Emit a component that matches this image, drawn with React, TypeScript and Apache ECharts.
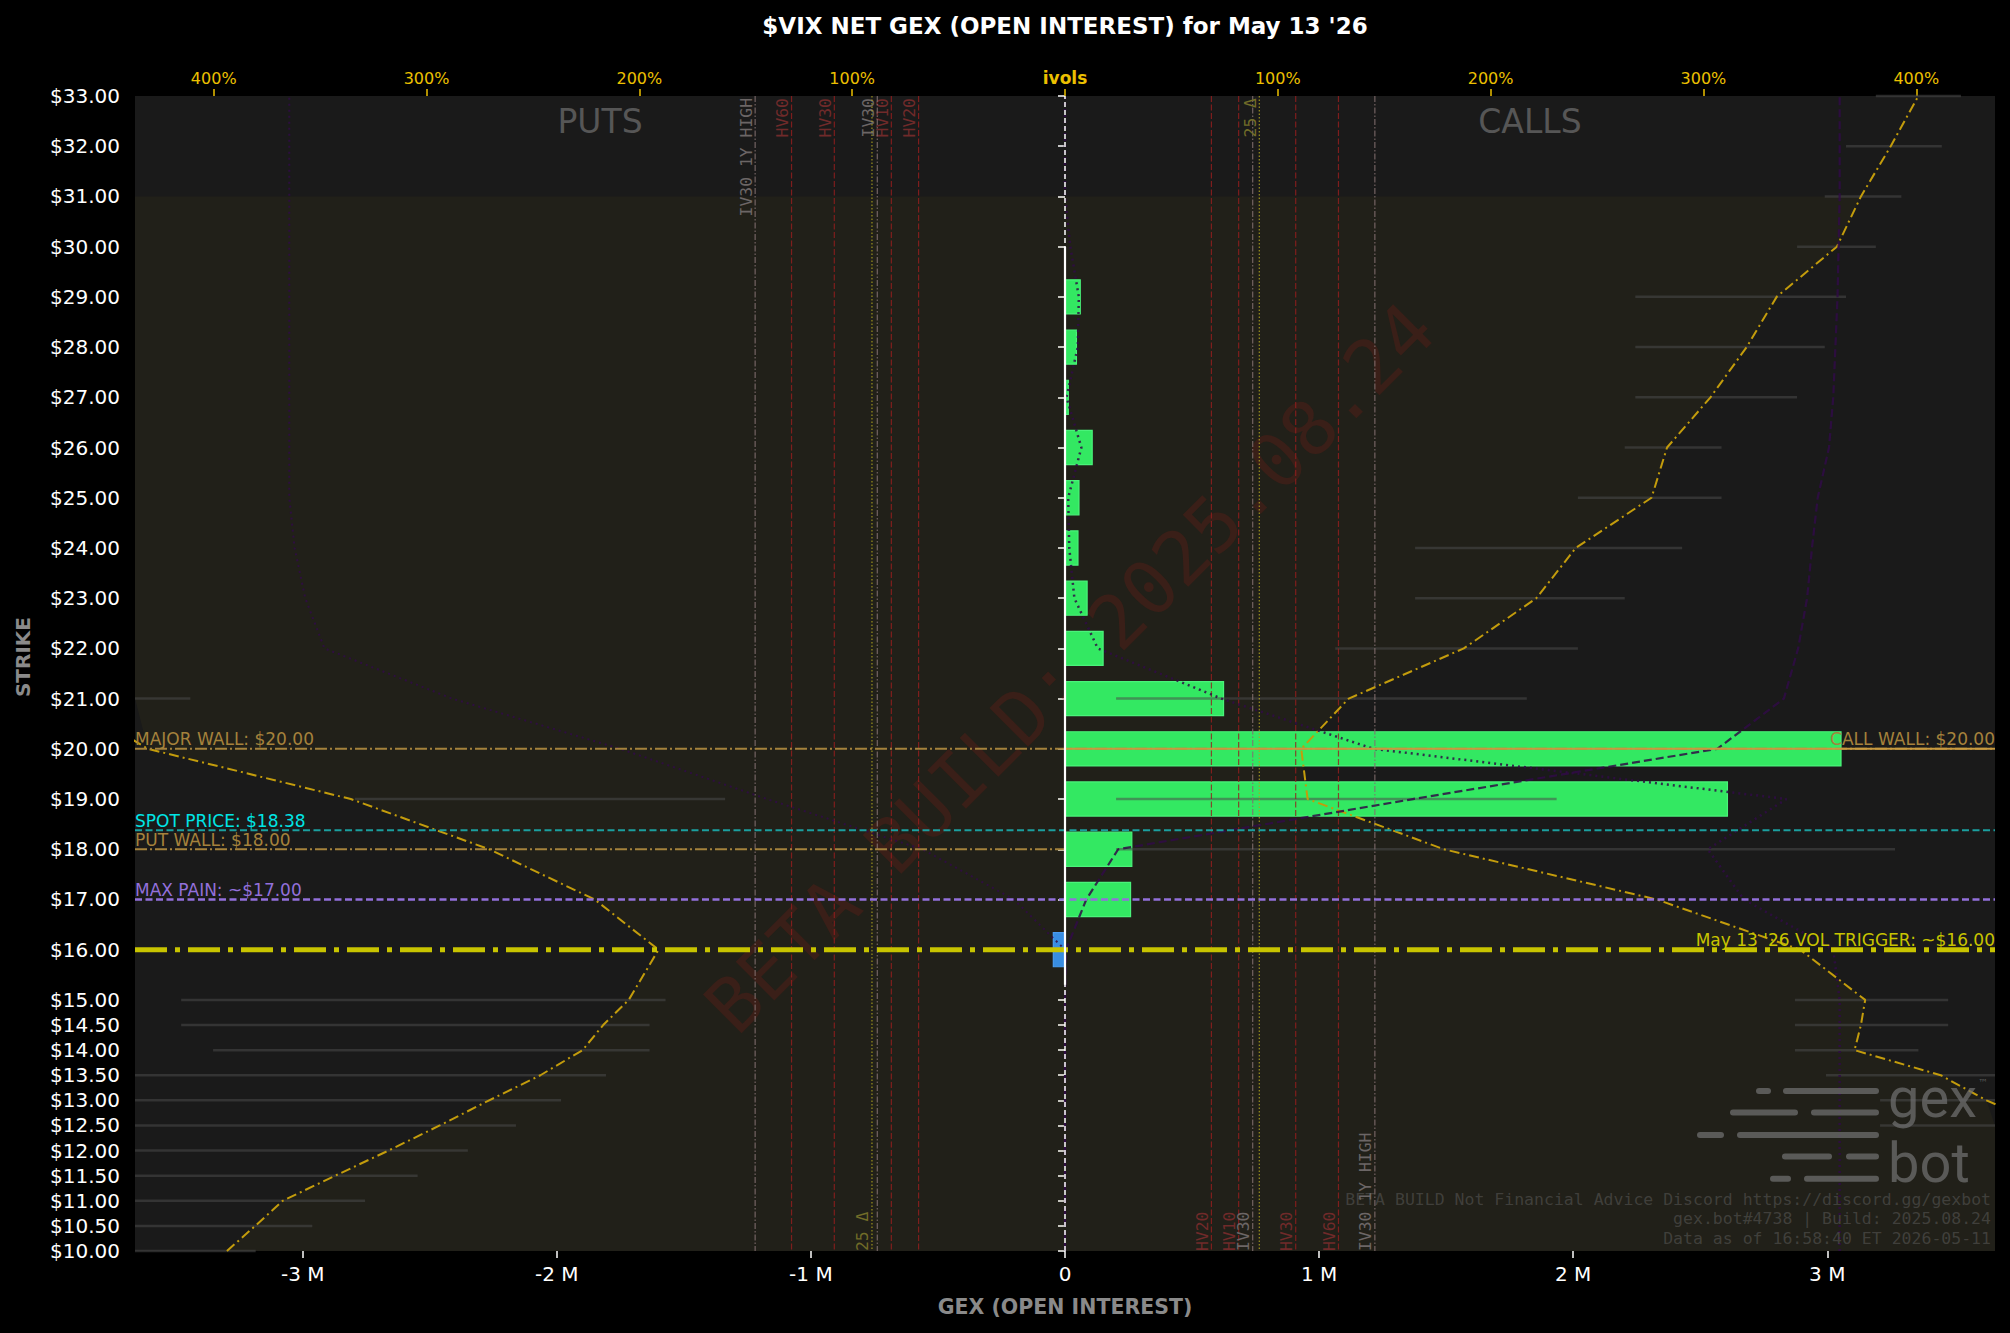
import { useEffect, useRef } from 'react';
import * as echarts from 'echarts';

// axis ticks
const strikeTicks = [10, 10.5, 11, 11.5, 12, 12.5, 13, 13.5, 14, 14.5, 15, 16, 17, 18, 19, 20, 21, 22, 23, 24, 25, 26, 27, 28, 29, 30, 31, 32, 33];
const gexTicks = [-3e6, -2e6, -1e6, 0, 1e6, 2e6, 3e6];
const ivolTicks = [-400, -300, -200, -100, 0, 100, 200, 300, 400];

// net gex per strike
const barStrikes = [16, 17, 18, 19, 20, 21, 22, 23, 24, 25, 26, 27, 28, 29];
const netGex = [-46000, 258000, 263000, 2607000, 3054000, 624000, 150000, 87000, 51000, 55000, 107000, 13000, 45000, 60000];

// implied vols (%) per strike, puts are drawn mirrored to the left
const ivStrikes = [10, 10.5, 11, 11.5, 12, 12.5, 13, 13.5, 14, 14.5, 15, 16, 17, 18, 19, 20, 21, 22, 23, 24, 25, 26, 27, 28, 29, 30, 31, 32, 33];
const putIv = [393.8, 380.5, 367.6, 342.9, 317.9, 293.8, 270.6, 246.5, 226.7, 217, 205, 191, 221, 270.6, 335.6, 431, 470, 490, 505, 520, 530, 540, 550, 560, 570, 580, 590, 600, 610];
const callIv = [560, 540, 520, 500, 480, 460, 433, 411.5, 371, 374, 376, 345.5, 278, 178, 114, 111, 133.3, 187.4, 221.5, 240, 275.6, 282.9, 303.3, 320.3, 334.4, 362.7, 374, 388, 401];
const putIvPrev = [0, 0, 0, 0, 0, 0, 0, 0, 0, 0, 0, 0, 24, 67, 140, 209, 288, 348, 357, 362, 364.5, 364.5, 364.5, 364.5, 364.5, 364.5, 364.5, 364.5, 364.5];
const callIvPrev = [0, 0, 0, 0, 0, 0, 0, 0, 0, 0, 0, 0.5, 10, 25, 163.5, 306.5, 337.8, 344.5, 348.7, 351, 353.7, 359, 361, 362, 363, 363.5, 364, 364, 364];
const callIvDot = [364, 364, 364, 364, 364, 364, 364, 364, 364, 364, 364, 361, 319, 302, 339, 145, 73.5, 15.4, 4.4, 2, 1.5, 7.7, 0.7, 6, 6.5, 2.5, 0, 0, 0];

// bid/ask iv ranges (%)
const callRangeStrikes = [12.5, 13, 13.5, 14, 14.5, 15, 18, 19, 21, 22, 23, 24, 25, 26, 27, 28, 29, 30, 31, 32, 33];
const callRangeLo = [383, 383, 357.6, 343, 343, 343, 24, 24, 24, 127, 164.5, 164.5, 241, 263, 268, 268, 268, 344, 357, 367, 381];
const callRangeHi = [470, 470, 470, 401, 415, 415, 390, 231, 217, 241, 263, 290, 308.5, 308.5, 344, 357, 367, 381, 393, 412, 421];
const putRangeStrikes = [10, 10.5, 11, 11.5, 12, 12.5, 13, 13.5, 14, 14.5, 15, 19, 21];
const putRangeLo = [380.3, 353.7, 328.9, 304.2, 280.6, 258, 236.8, 215.7, 195.2, 195.2, 187.7, 159.7, 411];
const putRangeHi = [480, 480, 480, 480, 480, 480, 470, 470, 400.3, 415.3, 415.3, 333.7, 470];

// realised / implied vol reference lines (%)
const refNames = ['HV20', 'HV10', 'IV30', 'HV30', 'HV60', 'IV30 1Y HIGH', '25 Δ'];
const refVols = [68.8, 81.6, 88.2, 108.4, 128.5, 145.6];
const putDelta25 = 90.7;
const callDelta25 = 91.3;

// key levels
const levelValues = [20, 20, 18.38, 18, 17, 16];
const levelNames = ['MAJOR WALL', 'CALL WALL', 'SPOT PRICE', 'PUT WALL', 'MAX PAIN', "May 13 '26 VOL TRIGGER"];
const levelApprox = [false, false, false, false, true, true];

const zeroSolidSpan = [15.3, 30];
const fillTop = 31;

const GOLD = '#ecc000';
const FONT = 'DejaVu Sans';
const MONO = 'DejaVu Sans Mono';

const levelStyles = [
  { color: '#a5823c', text: '#a5823c', width: 2, dash: [12, 3, 2, 3], span: 'full', side: 'left' },
  { color: '#c89a40', text: '#a5823c', width: 2, dash: null, span: 'right', side: 'right' },
  { color: '#1b9f9f', text: '#00e5e5', width: 2, dash: [7, 3.5], span: 'full', side: 'left' },
  { color: '#a5823c', text: '#a5823c', width: 2, dash: [12, 3, 2, 3], span: 'left', side: 'left' },
  { color: '#9370db', text: '#9370db', width: 2.5, dash: [7, 3.5], span: 'full', side: 'left' },
  { color: '#c8c400', text: '#c8c400', width: 5, dash: [32, 8, 5, 8], span: 'full', side: 'right' },
];

const clampX = (x: number, cs: any) => Math.max(cs.x, Math.min(cs.x + cs.width, x));

export default function App() {
  const chartRef = useRef<HTMLDivElement>(null);

  useEffect(() => {
    if (!chartRef.current) return;
    const chart = echarts.init(chartRef.current, undefined, { renderer: 'svg' });

    const rangeData = [
      ...callRangeStrikes.map((s, i) => [callRangeLo[i], callRangeHi[i], s]),
      ...putRangeStrikes.map((s, i) => [-putRangeHi[i], -putRangeLo[i], s]),
    ];
    const refData: number[][] = [];
    [-1, 1].forEach(side => {
      refVols.forEach((v, i) => refData.push([side * v, 20, i, side]));
    });
    refData.push([-putDelta25, 20, 6, -1]);
    refData.push([callDelta25, 20, 6, 1]);

    const ivLine = (vals: number[], sign: number) => ivStrikes.map((s, i) => [sign * vals[i], s]);

    const logoRows = [
      [1091, 1756, 1771, 1783, 1879],
      [1112.6, 1730, 1798, 1811, 1879],
      [1135, 1697, 1724, 1737, 1879],
      [1156.6, 1782, 1832, 1846, 1879],
      [1178.7, 1770, 1791, 1804, 1879],
    ];
    const logoBars: any[] = [];
    logoRows.forEach(r => {
      logoBars.push({ type: 'rect', z: 10, shape: { x: r[1], y: r[0] - 3, width: r[2] - r[1], height: 6, r: 3 }, style: { fill: 'rgba(110,110,110,0.75)' } });
      logoBars.push({ type: 'rect', z: 10, shape: { x: r[3], y: r[0] - 3, width: r[4] - r[3], height: 6, r: 3 }, style: { fill: 'rgba(110,110,110,0.75)' } });
    });

    const txt = (text: string, x: number, y: number, s: any, extra: any = {}) => ({
      type: 'text',
      x,
      y,
      z: 10,
      ...extra,
      style: {
        text,
        align: s.align || 'left',
        textAlign: s.align || 'left',
        verticalAlign: s.va || 'middle',
        textVerticalAlign: s.va || 'middle',
        fill: s.fill,
        fontSize: s.size,
        fontFamily: s.family || FONT,
        fontWeight: s.weight || 'normal',
      },
    });

    const footer = [
      'BETA BUILD Not Financial Advice Discord https://discord.gg/gexbot',
      'gex.bot#4738 | Build: 2025.08.24',
      'Data as of 16:58:40 ET 2026-05-11',
    ];

    const option: any = {
      animation: false,
      backgroundColor: '#000',
      grid: { left: 135, right: 15, top: 96, bottom: 82, show: true, backgroundColor: '#1a1a1a', borderWidth: 0 },
      xAxis: [
        {
          type: 'value',
          position: 'bottom',
          min: -3.66e6,
          max: 3.66e6,
          axisLine: { show: false },
          splitLine: { show: false },
          axisTick: { show: true, length: 7, lineStyle: { color: '#fff', width: 1.5 }, customValues: gexTicks },
          axisLabel: {
            customValues: gexTicks,
            color: '#fff',
            fontSize: 20,
            fontFamily: FONT,
            margin: 13,
            formatter: (v: number) => (v === 0 ? '0' : `${v / 1e6} M`),
          },
          name: 'GEX (OPEN INTEREST)',
          nameLocation: 'middle',
          nameGap: 45,
          nameTextStyle: { color: '#8a8a8a', fontWeight: 'bold', fontSize: 20.5, fontFamily: FONT },
        },
        {
          type: 'value',
          position: 'top',
          min: -437,
          max: 437,
          axisLine: { show: false },
          splitLine: { show: false },
          axisTick: { show: true, length: 7, lineStyle: { color: GOLD, width: 1.5 }, customValues: ivolTicks },
          axisLabel: {
            customValues: ivolTicks,
            color: GOLD,
            fontSize: 16,
            fontFamily: FONT,
            margin: 10,
            formatter: (v: number) => (v === 0 ? '{b|ivols}' : `${Math.abs(v)}%`),
            rich: { b: { color: GOLD, fontSize: 17, fontWeight: 'bold', fontFamily: FONT } },
          },
        },
      ],
      yAxis: {
        type: 'value',
        min: 10,
        max: 33,
        axisLine: { show: false },
        splitLine: { show: false },
        axisTick: { show: true, length: 7, lineStyle: { color: '#fff', width: 1.5 }, customValues: strikeTicks },
        axisLabel: {
          customValues: strikeTicks,
          color: '#fff',
          fontSize: 20,
          fontFamily: FONT,
          margin: 15,
          formatter: (v: number) => '$' + v.toFixed(2),
        },
      },
      graphic: [
        txt("$VIX NET GEX (OPEN INTEREST) for May 13 '26", 1065, 26, { fill: '#fff', size: 23, weight: 'bold', align: 'center' }),
        txt('STRIKE', 23, 657, { fill: '#8a8a8a', size: 20, weight: 'bold', align: 'center' }, { rotation: Math.PI / 2 }),
        txt('PUTS', 600, 121, { fill: '#565656', size: 33, align: 'center' }),
        txt('CALLS', 1530, 121, { fill: '#565656', size: 33, align: 'center' }),
        txt('BETA BUILD: 2025.08.24', 1070, 668, { fill: 'rgba(140,30,20,0.24)', size: 75, family: MONO, align: 'center' }, { rotation: Math.PI / 4, z: 2 }),
        ...logoBars,
        txt('gex', 1888, 1098, { fill: 'rgba(110,110,110,0.75)', size: 56, family: 'Roboto' }),
        txt('bot', 1888, 1163, { fill: 'rgba(110,110,110,0.75)', size: 56, family: 'Roboto' }),
        txt('™', 1978, 1082, { fill: 'rgba(110,110,110,0.75)', size: 10, family: FONT }),
        ...footer.map((t, i) => txt(t, 1991, 1199 + i * 19.6, { fill: 'rgba(110,110,110,0.42)', size: 16.5, family: MONO, align: 'right' })),
      ],
      series: [
        {
          // shaded region between put and call iv curves
          type: 'custom',
          xAxisIndex: 1,
          yAxisIndex: 0,
          z: 1,
          silent: true,
          data: [[0, fillTop]],
          renderItem: (params: any, api: any) => {
            const cs = params.coordSys;
            const idx = ivStrikes.map((_, i) => i).filter(i => ivStrikes[i] <= fillTop);
            const left = idx.map(i => api.coord([-putIv[i], ivStrikes[i]]));
            const right = idx.slice().reverse().map(i => api.coord([callIv[i], ivStrikes[i]]));
            const points = left.concat(right).map((p: number[]) => [clampX(p[0], cs), p[1]]);
            return { type: 'polygon', shape: { points }, style: { fill: 'rgba(255,215,0,0.03)' } };
          },
        },
        {
          type: 'custom',
          xAxisIndex: 0,
          yAxisIndex: 0,
          z: 3,
          silent: true,
          data: barStrikes.map((s, i) => [netGex[i], s]),
          renderItem: (params: any, api: any) => {
            const v = api.value(0);
            const s = api.value(1);
            const p0 = api.coord([0, s]);
            const p1 = api.coord([v, s]);
            const h = api.size([0, 0.68])[1];
            const neg = v < 0;
            return {
              type: 'rect',
              shape: { x: Math.min(p0[0], p1[0]), y: p0[1] - h / 2, width: Math.abs(p1[0] - p0[0]), height: h },
              style: { fill: neg ? '#388de2' : '#33e862', stroke: neg ? '#4a9cf0' : '#4af27a', lineWidth: 1.2 },
            };
          },
        },
        {
          type: 'custom',
          xAxisIndex: 1,
          yAxisIndex: 0,
          z: 4,
          silent: true,
          encode: { x: [0, 1], y: 2 },
          data: rangeData,
          renderItem: (params: any, api: any) => {
            const cs = params.coordSys;
            const p1 = api.coord([api.value(0), api.value(2)]);
            const p2 = api.coord([api.value(1), api.value(2)]);
            const x1 = clampX(p1[0], cs);
            const x2 = clampX(p2[0], cs);
            if (x2 - x1 < 1) return null;
            return { type: 'line', shape: { x1, y1: p1[1], x2, y2: p1[1] }, style: { stroke: 'rgba(74,74,74,0.55)', lineWidth: 2.5 } };
          },
        },
        {
          type: 'custom',
          xAxisIndex: 1,
          yAxisIndex: 0,
          z: 5,
          silent: true,
          data: refData,
          renderItem: (params: any, api: any) => {
            const cs = params.coordSys;
            const k = api.value(2);
            const side = api.value(3);
            const px = api.coord([api.value(0), api.value(1)])[0];
            const name = refNames[k];
            const hv = name.startsWith('HV');
            const delta = k === 6;
            const atTop = delta ? side > 0 : side < 0;
            const stroke = hv ? 'rgba(150,30,30,0.8)' : delta ? 'rgba(175,165,30,0.85)' : 'rgba(130,112,112,0.85)';
            const dash = hv ? [6, 2.5] : delta ? [1.5, 2] : [6, 2, 1.5, 2];
            const fill = hv ? '#702a2a' : delta ? '#716c28' : '#6c6666';
            return {
              type: 'group',
              children: [
                {
                  type: 'line',
                  shape: { x1: px, y1: cs.y, x2: px, y2: cs.y + cs.height },
                  style: { stroke, lineWidth: 1.2, lineDash: dash },
                },
                {
                  type: 'text',
                  x: px - 1,
                  y: atTop ? cs.y + 2 : cs.y + cs.height,
                  rotation: Math.PI / 2,
                  style: {
                    text: name,
                    fill,
                    fontSize: 16.4,
                    fontFamily: MONO,
                    align: atTop ? 'right' : 'left',
                    verticalAlign: 'bottom',
                  },
                },
              ],
            };
          },
        },
        {
          type: 'line',
          xAxisIndex: 1,
          yAxisIndex: 0,
          z: 6,
          silent: true,
          symbol: 'none',
          data: ivLine(putIv, -1),
          lineStyle: { color: '#c39c0c', width: 2, type: [10, 4, 2, 4] },
        },
        {
          type: 'line',
          xAxisIndex: 1,
          yAxisIndex: 0,
          z: 6,
          silent: true,
          symbol: 'none',
          data: ivLine(callIv, 1),
          lineStyle: { color: '#c39c0c', width: 2, type: [10, 4, 2, 4] },
        },
        {
          type: 'line',
          xAxisIndex: 1,
          yAxisIndex: 0,
          z: 7,
          silent: true,
          symbol: 'none',
          data: ivLine(putIvPrev, -1),
          lineStyle: { color: 'rgba(48,12,70,0.85)', width: 2, type: [2, 4] },
        },
        {
          type: 'line',
          xAxisIndex: 1,
          yAxisIndex: 0,
          z: 7,
          silent: true,
          symbol: 'none',
          data: ivLine(callIvPrev, 1),
          lineStyle: { color: 'rgba(48,12,70,0.85)', width: 2.2, type: [8, 4] },
        },
        {
          type: 'line',
          xAxisIndex: 1,
          yAxisIndex: 0,
          z: 7,
          silent: true,
          symbol: 'none',
          data: ivLine(callIvDot, 1),
          lineStyle: { color: 'rgba(48,12,70,0.85)', width: 2.5, type: [2, 4] },
        },
        {
          type: 'custom',
          xAxisIndex: 0,
          yAxisIndex: 0,
          z: 8,
          silent: true,
          data: levelValues.map((v, i) => [0, v, i]),
          renderItem: (params: any, api: any) => {
            const cs = params.coordSys;
            const v = api.value(1);
            const k = api.value(2);
            const st = levelStyles[k];
            const p = api.coord([0, v]);
            const x1 = st.span === 'right' ? p[0] : cs.x;
            const x2 = st.span === 'left' ? p[0] : cs.x + cs.width;
            const label = `${levelNames[k]}: ${levelApprox[k] ? '~' : ''}$${v.toFixed(2)}`;
            return {
              type: 'group',
              children: [
                {
                  type: 'line',
                  shape: { x1, y1: p[1], x2, y2: p[1] },
                  style: { stroke: st.color, lineWidth: st.width, lineDash: st.dash || undefined },
                },
                {
                  type: 'text',
                  x: st.side === 'left' ? cs.x : cs.x + cs.width,
                  y: p[1] - 1,
                  style: {
                    text: label,
                    fill: st.text,
                    fontSize: 17,
                    fontFamily: FONT,
                    align: st.side,
                    verticalAlign: 'bottom',
                  },
                },
              ],
            };
          },
        },
        {
          type: 'line',
          xAxisIndex: 0,
          yAxisIndex: 0,
          z: 9,
          silent: true,
          symbol: 'none',
          data: [[0, strikeTicks[0]], [0, strikeTicks[strikeTicks.length - 1]]],
          lineStyle: { color: '#ffffff', width: 1.5, type: [5, 3] },
        },
        {
          type: 'line',
          xAxisIndex: 0,
          yAxisIndex: 0,
          z: 9,
          silent: true,
          symbol: 'none',
          data: zeroSolidSpan.map(s => [0, s]),
          lineStyle: { color: '#ffffff', width: 2.2 },
        },
      ],
    };

    chart.setOption(option);

    return () => {
      chart.dispose();
    };
  }, []);

  return (
    <div
      ref={chartRef}
      style={{ position: 'fixed', left: 0, top: 0, width: 2010, height: 1333, background: '#000' }}
    />
  );
}
